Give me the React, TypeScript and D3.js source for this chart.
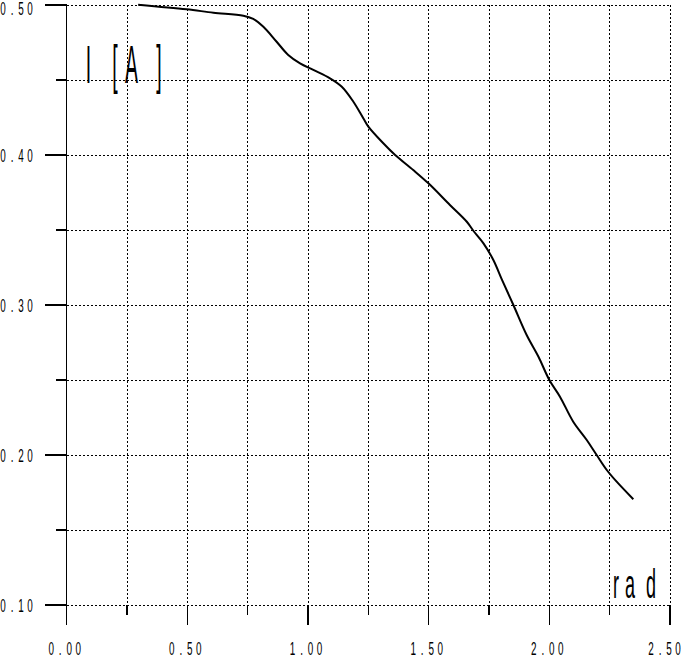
import React from "react";
import * as d3 from "d3";

// Curve: angle [rad] vs current I [A]
const radValues = [0.296, 0.497, 0.608, 0.732, 0.773, 0.815, 0.870, 0.918, 0.967, 1.022, 1.091, 1.140, 1.188, 1.229, 1.250, 1.312, 1.361, 1.436, 1.499, 1.588, 1.658, 1.685, 1.727, 1.768, 1.803, 1.851, 1.906, 1.955, 2.000, 2.044, 2.099, 2.155, 2.196, 2.238, 2.279, 2.348];
const currentValues = [0.5002, 0.4971, 0.4949, 0.4929, 0.4907, 0.4855, 0.4755, 0.4667, 0.4611, 0.4567, 0.4511, 0.4455, 0.4355, 0.4245, 0.4189, 0.4078, 0.4000, 0.3900, 0.3811, 0.3667, 0.3555, 0.3495, 0.3411, 0.3300, 0.3171, 0.3000, 0.2800, 0.2655, 0.2500, 0.2389, 0.2222, 0.2100, 0.2000, 0.1900, 0.1822, 0.1705];

const xMajorTicks = [0, 0.5, 1.0, 1.5, 2.0, 2.5];
const xMinorTicks = [0.25, 0.75, 1.25, 1.75, 2.25];
const xTickLabels = ["0.00", "0.50", "1.00", "1.50", "2.00", "2.50"];
const yMajorTicks = [0.1, 0.2, 0.3, 0.4, 0.5];
const yMinorTicks = [0.15, 0.25, 0.35, 0.45];
const yTickLabels = ["0.10", "0.20", "0.30", "0.40", "0.50"];
const yAxisTitle = "I [A]";
const xAxisTitle = "rad";

const W = 683;
const H = 661;
const FONT = "'Liberation Sans', Arial, sans-serif";

function CharText({ str, ox, oy, offsets, sx, size }: { str: string; ox: number; oy: number; offsets: number[]; sx: number; size: number }) {
  return (
    <text
      transform={`translate(${ox},${oy}) scale(${sx},1)`}
      x={offsets.map((o) => (o / sx).toFixed(2)).join(" ")}
      y={0}
      textAnchor="middle"
      fontFamily={FONT}
      fontSize={size}
      fill="#000"
    >
      {str}
    </text>
  );
}

export default function App() {
  const x = d3.scaleLinear().domain([0, 2.5]).range([66.7, 670]);
  const y = d3.scaleLinear().domain([0.1, 0.5]).range([605, 5]);
  const pts: [number, number][] = radValues.map((r, i) => [r, currentValues[i]]);
  const line = d3
    .line<[number, number]>()
    .x((d) => x(d[0]))
    .y((d) => y(d[1]))
    .curve(d3.curveCatmullRom.alpha(0.5));

  const gridX = [...xMajorTicks, ...xMinorTicks];
  const gridY = [...yMajorTicks, ...yMinorTicks];
  const step = 9;

  return (
    <svg width={W} height={H} style={{ position: "absolute", left: 0, top: 0, background: "#fff" }}>
      <rect x={0} y={0} width={W} height={H} fill="#fff" />
      {/* dotted grid */}
      {gridX.map((v) => (
        <line key={"gx" + v} x1={x(v)} x2={x(v)} y1={y(0.5)} y2={y(0.1)} stroke="#000" strokeWidth={1} strokeDasharray="2,2" shapeRendering="crispEdges" />
      ))}
      {gridY.map((v) => (
        <line key={"gy" + v} x1={x(0)} x2={x(2.5)} y1={y(v)} y2={y(v)} stroke="#000" strokeWidth={1} strokeDasharray="2,2" shapeRendering="crispEdges" />
      ))}
      {/* left axis */}
      <line x1={x(0)} x2={x(0)} y1={y(0.5)} y2={y(0.1) + 20} stroke="#000" strokeWidth={1.2} shapeRendering="crispEdges" />
      {yMajorTicks.map((v) => (
        <line key={"ym" + v} x1={x(0) - 22} x2={x(0)} y1={y(v)} y2={y(v)} stroke="#000" strokeWidth={1.2} shapeRendering="crispEdges" />
      ))}
      {yMinorTicks.map((v) => (
        <line key={"yn" + v} x1={x(0) - 11} x2={x(0)} y1={y(v)} y2={y(v)} stroke="#000" strokeWidth={1.2} shapeRendering="crispEdges" />
      ))}
      {xMajorTicks.map((v) => (
        <line key={"xm" + v} x1={x(v)} x2={x(v)} y1={y(0.1)} y2={y(0.1) + 20} stroke="#000" strokeWidth={1.2} shapeRendering="crispEdges" />
      ))}
      {xMinorTicks.map((v) => (
        <line key={"xn" + v} x1={x(v)} x2={x(v)} y1={y(0.1)} y2={y(0.1) + 10} stroke="#000" strokeWidth={1.2} shapeRendering="crispEdges" />
      ))}
      {/* tick labels */}
      {xMajorTicks.map((v, i) => {
        const s = xTickLabels[i];
        const n = s.length;
        const half = ((n - 1) / 2) * step;
        const cx = Math.min(x(v) - 2, W - half - 5);
        return (
          <CharText key={"xl" + v} str={s} ox={cx} oy={655} offsets={s.split("").map((_, k) => (k - (n - 1) / 2) * step)} sx={0.55} size={18} />
        );
      })}
      {yMajorTicks.map((v, i) => {
        const s = yTickLabels[i];
        const n = s.length;
        return (
          <CharText key={"yl" + v} str={s} ox={30} oy={Math.max(y(v) + 7, 15)} offsets={s.split("").map((_, k) => -(n - 1 - k) * step)} sx={0.55} size={18} />
        );
      })}
      {/* axis titles */}
      <CharText str={yAxisTitle} ox={0} oy={82.7} offsets={[88.5, 101, 115, 131.5, 159]} sx={0.36} size={54} />
      <CharText str={xAxisTitle} ox={0} oy={598} offsets={[616, 630, 651]} sx={0.45} size={40} />
      {/* curve */}
      <path d={line(pts) || ""} fill="none" stroke="#000" strokeWidth={2} strokeLinejoin="round" />
    </svg>
  );
}
